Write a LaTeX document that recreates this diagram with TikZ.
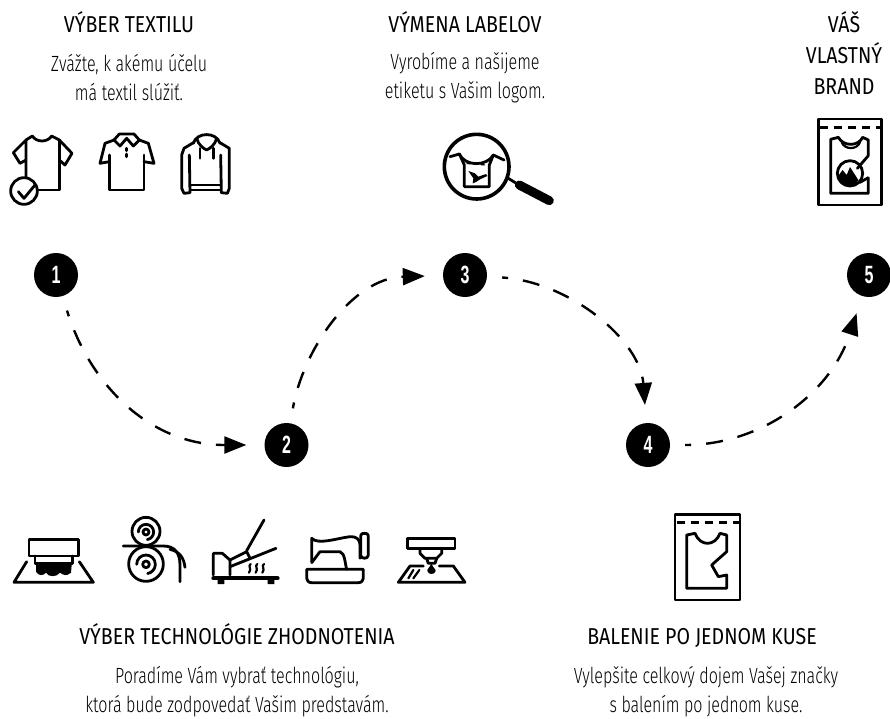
\documentclass[tikz,border=0pt]{standalone}
\usepackage{fontspec}
\usetikzlibrary{positioning, arrows.meta}
\setmainfont[FakeStretch=0.73]{Fira Sans Light}
\newfontfamily\headfont[FakeStretch=0.85]{Fira Sans}
\newfontfamily\numfont[FakeStretch=0.64]{Liberation Sans Bold}
\tikzset{
numdot/.style={circle, fill=black, text=white, minimum size=44pt, inner sep=0pt, font=\numfont\fontsize{25}{25}\selectfont}, % the five black step circles
flowline/.style={line width=2.4pt, dash pattern=on 17pt off 15pt, dash phase=11pt, shorten <=15pt, shorten >=18pt, -{Triangle[length=22pt, width=17pt]}}, % dashed connectors
headtext/.style={font=\headfont\fontsize{23}{23}\selectfont, anchor=base}, % the titles
bodytext/.style={font=\fontsize{22}{29}\selectfont, align=center}, % the lines below the titles
icon/.style={line width=2.8pt, line join=round, line cap=round}, % the outline of the icons
thinicon/.style={line width=2.2pt, line join=round, line cap=round},
cutline/.style={line width=2.8pt, line cap=butt, dash pattern=on 8pt off 6pt}, % the tear line of the bags
zoomed/.style={shift={(#1)}, scale=1/3}, % icon points are read at three times the size
}
\begin{document}
\begin{tikzpicture}[x=1pt, y=-1pt]
    \useasboundingbox (0,0) rectangle (890,718);
    \node[numdot] (n1) at (56,275) {1};
    \node[numdot] (n2) at (286.5,445) {2};
    \node[numdot] (n3) at (465,275) {3};
    \node[numdot] (n4) at (648,445) {4};
    \node[numdot] (n5) at (869,275) {5};
    \draw[flowline] (n1) .. controls (90,385) and (150,445) .. (n2);
    \draw[flowline] (n2) .. controls (303,350) and (352,278) .. (n3);
    \draw[flowline] (n3) .. controls (570,282) and (640,340) .. (n4);
    \draw[flowline] (n4) .. controls (760,445) and (830,395) .. (n5);

    \node[headtext] (title1) at (129,32) {VÝBER TEXTILU};
    \node[bodytext] (text1) at (129,78) {Zvážte, k akému účelu\\má textil slúžiť.};
    \node[headtext] (title3) at (465,32) {VÝMENA LABELOV};
    \node[bodytext] (text3) at (465,78) {Vyrobíme a našijeme\\etiketu s Vašim logom.};
    \node[headtext] (title5a) at (844,32) {VÁŠ};
    \node[headtext] (title5b) at (844,63) {VLASTNÝ};
    \node[headtext] (title5c) at (844,94) {BRAND};
    \node[headtext] (title2) at (237,644) {VÝBER TECHNOLÓGIE ZHODNOTENIA};
    \node[bodytext] (text2) at (237,692) {Poradíme Vám vybrať technológiu,\\ktorá bude zodpovedať Vašim predstavám.};
    \node[headtext] (title4) at (702,644) {BALENIE PO JEDNOM KUSE};
    \node[bodytext] (text4) at (706,692) {Vylepšite celkový dojem Vašej značky\\s balením po jednom kuse.};

    \begin{scope}[zoomed={0,120}, icon]
      \draw (78,175) -- (78,60) -- (40,98) -- (60,130) -- (78,120);
      \draw (78,60) -- (97,48) .. controls (110,68) and (142,68) .. (155,48) -- (178,60) -- (216,100) -- (195,135) -- (178,120);
      \draw (178,60) -- (178,210) -- (112,210);
      \draw[fill=white] (72,213) circle (40);
      \draw (55,215) -- (72,235) -- (105,195);
      \draw (358,42) -- (402,42) -- (418,60) -- (400,78) -- (380,55) -- (360,78) -- (342,60) -- cycle;
      \draw (342,60) -- (315,70) -- (300,130) -- (328,125);
      \draw (418,60) -- (445,70) -- (462,130) -- (432,125);
      \draw (328,105) -- (328,210) -- (432,210) -- (432,105);
      \draw (380,85) -- (380,92) (380,102) -- (380,110);
      \draw (580,70) .. controls (590,35) and (650,35) .. (660,70);
      \draw (580,68) -- (552,85) -- (545,105) -- (545,205) -- (552,220) -- (570,218) -- (568,105);
      \draw (660,68) -- (688,85) -- (688,205) -- (682,220) -- (664,218) -- (662,105);
      \draw (590,55) .. controls (595,75) and (610,85) .. (620,90) .. controls (630,85) and (645,75) .. (650,55);
      \draw (600,85) -- (600,115) (640,85) -- (640,115);
      \draw (572,195) -- (660,195) (572,210) -- (660,210);
    \end{scope}

    \begin{scope}[zoomed={430,110}, icon]
      \draw[line width=3.6pt] (140,170) circle (97);
      \draw (235,205) -- (262,222);
      \draw[line width=9pt] (268,225) -- (358,272);
      \draw (60,140) -- (88,132) .. controls (105,170) and (170,170) .. (190,135) -- (222,150);
      \draw (88,132) -- (103,165) -- (103,230) -- (178,230) -- (178,165) -- (190,135);
      \draw[line width=1.5pt, line cap=butt, dash pattern=on 4pt off 3pt] (110,160) -- (172,165);
      \fill (115,183) -- (135,190) -- (145,200) -- (168,192) -- (172,198) -- (150,208) -- (138,216) -- (128,220) -- (130,205) -- cycle;
    \end{scope}

    \begin{scope}[zoomed={800,105}, icon]
      \draw (55,42) rectangle (245,300);
      \draw[cutline] (60,68) -- (245,68);
      \draw (205,150) -- (205,105) -- (188,97) .. controls (175,125) and (130,125) .. (115,97) -- (92,103) -- (92,265) -- (205,265) -- (205,220);
      \draw[thinicon] (125,112) .. controls (135,135) and (170,135) .. (180,112);
      \draw (150,205) circle (38);
      \fill (113,215) -- (128,195) -- (140,210) -- (150,186) -- (175,225) -- (165,240) -- (150,245) -- (125,238) -- cycle;
      \draw (172,190) -- (205,152) (180,232) -- (205,218);
    \end{scope}

    \begin{scope}[zoomed={650,505}, icon]
      \draw (75,28) rectangle (270,285);
      \draw[cutline] (80,52) -- (270,52);
      \draw (230,140) -- (230,90) -- (210,85) .. controls (195,125) and (150,125) .. (135,85) -- (110,90) -- (110,250) -- (230,250) -- (230,210) -- (205,215) -- (185,180) -- cycle;
    \end{scope}

    \begin{scope}[zoomed={10,510}, icon]
      \draw (57,88) rectangle (205,138);
      \draw (75,138) -- (75,160) -- (187,160) -- (187,138);
      \draw (50,155) -- (12,217) -- (250,217) -- (208,155);
      \fill (78,165) -- (185,165) -- (183,188) .. controls (170,200) and (160,195) .. (150,188) .. controls (140,202) and (115,202) .. (108,188) .. controls (100,198) and (85,198) .. (78,185) -- cycle;
      \draw (408,64) circle (42);
      \draw (408,162) circle (52);
      \draw (408,66) circle (9);
      \draw (408,163) circle (10);
      \draw (385,66) arc[start angle=180, end angle=440, radius=23];
      \draw (380,163) arc[start angle=180, end angle=440, radius=28];
      \draw (340,108) -- (460,108) .. controls (495,108) and (510,130) .. (510,165) -- (510,215);
      \draw (480,118) .. controls (510,125) and (522,145) .. (525,172);
    \end{scope}

    \begin{scope}[zoomed={205,510}, icon]
      \draw[line width=4pt] (25,205) -- (218,205);
      \fill (38,205) rectangle (58,222) (188,205) rectangle (208,222);
      \draw (25,195) -- (25,130) -- (52,130) -- (75,150) -- (75,195);
      \draw (75,150) -- (125,125) -- (135,145);
      \draw (75,170) -- (213,115);
      \draw (125,122) -- (177,30);
      \foreach \sx in {132,152,172}
        \draw[thinicon] (\sx+5,162) .. controls (\sx-5,168) and (\sx+10,176) .. (\sx,188);
    \end{scope}

    \begin{scope}[zoomed={240,510}, icon]
      \draw (200,178) -- (370,178) -- (370,200) .. controls (370,212) and (365,218) .. (355,218) -- (215,218) .. controls (205,218) and (200,212) .. (200,200) -- cycle;
      \draw (215,155) -- (215,85) .. controls (235,105) and (290,85) .. (330,80) .. controls (350,78) and (360,90) .. (360,105) -- (360,145);
      \draw (373,70) .. controls (362,70) and (362,75) .. (362,85) -- (362,135) .. controls (362,148) and (385,148) .. (385,135) -- (385,85) .. controls (385,75) and (385,70) .. (373,70);
      \draw (215,158) -- (240,125) -- (300,125) .. controls (315,130) and (315,160) .. (320,178);
      \draw (503,85) rectangle (645,115);
      \draw (540,115) -- (540,130) -- (555,145) -- (590,145) -- (605,130) -- (605,115);
      \draw (560,145) -- (565,160) -- (585,160) -- (590,145);
      \fill (574,160) .. controls (570,172) and (560,178) .. (562,183) .. controls (565,195) and (584,195) .. (587,183) .. controls (588,178) and (578,172) .. (574,160);
      \draw (550,168) -- (510,168) -- (475,217) -- (675,217) -- (640,168) -- (598,168);
      \draw[thinicon] (505,205) -- (520,180) (520,205) -- (538,180);
    \end{scope}
\end{tikzpicture}
\end{document}
